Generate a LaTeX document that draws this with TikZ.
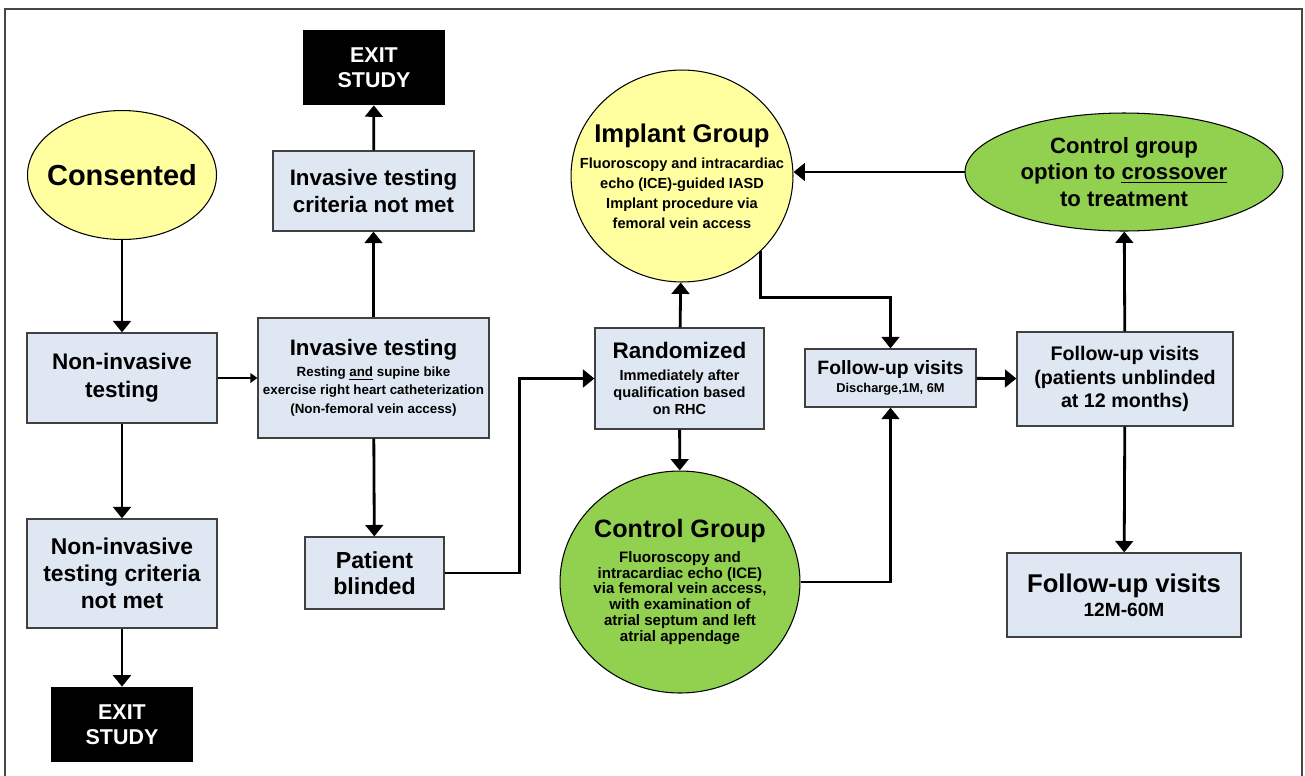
\documentclass[tikz,border=0pt]{standalone}
\usepackage{fontspec}
\setmainfont{Liberation Sans}
\usetikzlibrary{shapes.geometric,arrows.meta,positioning}
\definecolor{BoxFill}{RGB}{222,231,242}
\definecolor{BoxLine}{RGB}{64,64,64}
\definecolor{SoftYellow}{RGB}{255,255,160}
\definecolor{LeafGreen}{RGB}{146,208,80}
\definecolor{FrameGray}{RGB}{70,70,70}
\newcommand{\setfs}[2]{\fontsize{#1}{#2}\selectfont}
\tikzset{
  bbox/.style={draw=BoxLine, fill=BoxFill, line width=0.7pt, inner sep=0pt,
               align=center, font=\bfseries},
  xbox/.style={fill=black, text=white, inner sep=0pt, align=center,
               minimum width=2.84cm, minimum height=1.5cm,
               font=\bfseries\setfs{12.2}{14}},
  ybub/.style={ellipse, draw=black, fill=SoftYellow, line width=0.6pt,
               inner sep=-20pt, align=center, font=\bfseries},
  gbub/.style={ellipse, draw=black, fill=LeafGreen, line width=0.6pt,
               inner sep=-20pt, align=center, font=\bfseries},
  arr/.style={-{Triangle[length=6.5pt,width=10pt]}, line width=1.6pt, draw=black},
  tarr/.style={-{Triangle[length=4pt,width=5.5pt]}, line width=0.8pt, draw=black},
}

\begin{document}
\begin{tikzpicture}[x=0.02cm, y=-0.02cm]
    \useasboundingbox (0,0) rectangle (1305,775);
    \draw[FrameGray, line width=1.2pt] (5,9) rectangle (1302,800);

    % left column
    \node[ybub, minimum width=3.78cm, minimum height=2.58cm,
          font=\bfseries\setfs{16.5}{19}] (consent) at (122,175) {Consented};
    \node[bbox, minimum width=3.8cm, minimum height=1.8cm,
          font=\bfseries\setfs{12.8}{16}] (noninv) at (122,378) {Non-invasive\\testing};
    \node[bbox, minimum width=3.8cm, minimum height=2.18cm,
          font=\bfseries\setfs{13}{15.3}] (noncrit) at (122,573.5) {Non-invasive\\testing criteria\\not met};
    \node[xbox] (exitlow) at (122,724.5) {EXIT\\STUDY};

    % invasive column
    \node[bbox, minimum width=4.62cm, minimum height=2.4cm,
          font=\bfseries\setfs{7.6}{10.6}] (invasive) at (373.5,378)
          {{\setfs{12.7}{15}Invasive testing}\\[1pt]
           Resting \underline{and} supine bike\\
           exercise right heart catheterization\\
           (Non-femoral vein access)};
    \node[bbox, minimum width=4.02cm, minimum height=1.6cm,
          font=\bfseries\setfs{12.7}{15.3}] (invcrit) at (373.5,191) {Invasive testing\\criteria not met};
    \node[xbox] (exittop) at (374,67.5) {EXIT\\STUDY};
    \node[bbox, minimum width=2.78cm, minimum height=1.44cm,
          font=\bfseries\setfs{13.2}{14.7}] (blinded) at (374.5,573) {Patient\\blinded};

    % randomization
    \node[bbox, minimum width=3.38cm, minimum height=2.02cm,
          font=\bfseries\setfs{8.3}{9.8}] (random) at (679.5,378.5)
          {{\setfs{12.8}{15}Randomized}\\[2.5pt]
           Immediately after\\qualification based\\on RHC};
    \node[ybub, minimum width=4.44cm, minimum height=4.24cm,
          font=\bfseries\setfs{8.3}{11.3}] (implant) at (682,176)
          {{\setfs{14.6}{17}Implant Group}\\[4pt]
           Fluoroscopy and intracardiac\\echo (ICE)-guided IASD\\
           Implant procedure via\\femoral vein access};
    \node[gbub, minimum width=4.8cm, minimum height=4.44cm,
          font=\bfseries\setfs{8.6}{9.1}] (control) at (680,582)
          {{\setfs{14.3}{16}Control Group}\\[4pt]
           Fluoroscopy and\\intracardiac echo (ICE)\\via femoral vein access,\\
           with examination of\\atrial septum and left\\atrial appendage};

    % follow-up
    \node[bbox, minimum width=3.42cm, minimum height=1.16cm,
          font=\bfseries\setfs{7.3}{9}] (fuA) at (890.5,378)
          {{\setfs{11}{13}Follow-up visits}\\[1pt] Discharge,1M, 6M};
    \node[bbox, minimum width=4.32cm, minimum height=1.88cm,
          font=\bfseries\setfs{11.2}{13.6}] (fuB) at (1125,379)
          {Follow-up visits\\(patients unblinded\\at 12 months)};
    \node[gbub, minimum width=6.36cm, minimum height=2.36cm,
          font=\bfseries\setfs{12.6}{15}] (cross) at (1124,172)
          {Control group\\option to \underline{crossover}\\to treatment};
    \node[bbox, minimum width=4.68cm, minimum height=1.68cm,
          font=\bfseries\setfs{10.9}{13.6}] (fuC) at (1124,595)
          {{\setfs{14.6}{17}Follow-up visits}\\ 12M-60M};

    \draw[arr] (consent) -- (noninv);
    \draw[arr] (noninv) -- (noncrit);
    \draw[arr] (noncrit) -- (exitlow);
    \draw[tarr] (noninv) -- (invasive);
    \draw[arr] (invasive) -- (invcrit);
    \draw[arr] (invcrit) -- (exittop);
    \draw[arr] (invasive) -- (blinded);
    \draw[arr] (blinded.east) -- ++(75,0) |- (random.west);
    \draw[arr] (random) -- (implant);
    \draw[arr] (random) -- (control);
    \draw[arr] (implant.south east) -- ++(0,46) -| (fuA.north);
    \draw[arr] (control.east) -| (fuA.south);
    \draw[arr] (fuA) -- (fuB);
    \draw[arr] (fuB) -- (cross);
    \draw[arr] (fuB) -- (fuC);
    \draw[arr] (cross.west) -- (cross.west -| implant.east);
  \end{tikzpicture}
\end{document}
